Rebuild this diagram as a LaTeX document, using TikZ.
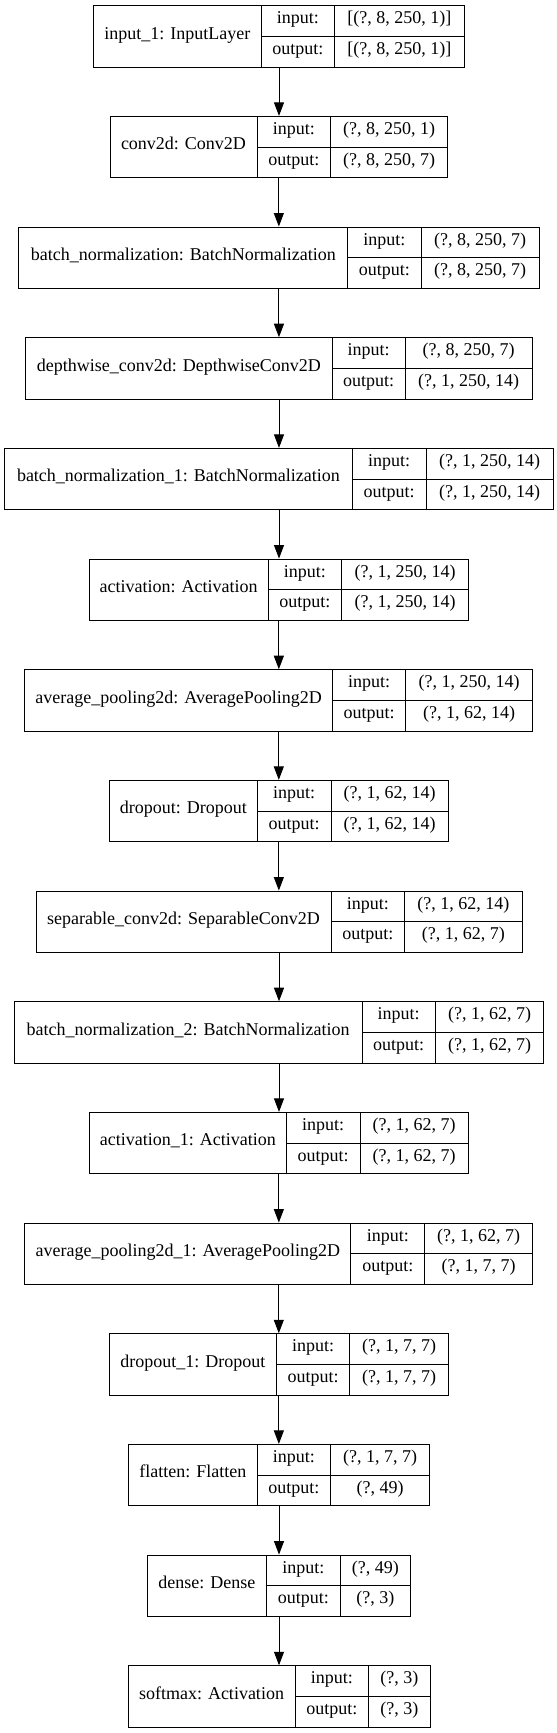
\documentclass[tikz,border=0pt]{standalone}
\usepackage{fontspec}
\setmainfont{Liberation Serif}
\usetikzlibrary{arrows.meta,fit}
\tikzset{
  frame/.style={draw=black, line width=1pt, inner sep=0pt, rectangle},
  cell/.style={draw=black, line width=1pt},
  txt/.style={font=\fontsize{18}{20}\selectfont, inner sep=0pt, text height=0.83em, text depth=0.25em},
  arr/.style={draw=black, line width=1pt, -{Triangle[length=13.5pt,width=10pt]}}
}
\newcommand\klayer[8]{%
  \pgfmathsetmacro\yt{5.7+110.67*#1}%
  \pgfmathsetmacro\yb{\yt+61.3}%
  \pgfmathsetmacro\ym{\yt+30.65}%
  \node[frame, fit={(#2,\yt) (#5,\yb)}] (b#1) {};
  \draw[cell] (#3,\yt) -- (#3,\yb) (#4,\yt) -- (#4,\yb) (#3,\ym) -- (#5,\ym);
  \node[txt] (n#1) at ({(#2+#3)/2},{(\yt+\yb)/2}) {#6};
  \node[txt] (ia#1) at ({(#3+#4)/2},{(\yt+\ym)/2}) {input:};
  \node[txt] (oa#1) at ({(#3+#4)/2},{(\ym+\yb)/2}) {output:};
  \node[txt] (iv#1) at ({(#4+#5)/2},{(\yt+\ym)/2}) {#7};
  \node[txt] (ov#1) at ({(#4+#5)/2},{(\ym+\yb)/2}) {#8};
}
\begin{document}
\begin{tikzpicture}[x=1pt,y=-1pt]
\useasboundingbox[fill=white] (0,0) rectangle (557,1733);
\klayer{0}{93.6}{261}{334.5}{464.4}{input\_1: InputLayer}{[(?, 8, 250, 1)]}{[(?, 8, 250, 1)]}
\klayer{1}{110}{257}{330.6}{447.7}{conv2d: Conv2D}{(?, 8, 250, 1)}{(?, 8, 250, 7)}
\klayer{2}{18.9}{347.7}{421}{539}{batch\_normalization: BatchNormalization}{(?, 8, 250, 7)}{(?, 8, 250, 7)}
\klayer{3}{25.6}{332}{405}{532.4}{depthwise\_conv2d: DepthwiseConv2D}{(?, 8, 250, 7)}{(?, 1, 250, 14)}
\klayer{4}{4.6}{352.3}{426}{553.4}{batch\_normalization\_1: BatchNormalization}{(?, 1, 250, 14)}{(?, 1, 250, 14)}
\klayer{5}{89}{268}{341.6}{468.7}{activation: Activation}{(?, 1, 250, 14)}{(?, 1, 250, 14)}
\klayer{6}{24.9}{332.4}{405.7}{532.7}{average\_pooling2d: AveragePooling2D}{(?, 1, 250, 14)}{(?, 1, 62, 14)}
\klayer{7}{109.3}{257.3}{331}{448.4}{dropout: Dropout}{(?, 1, 62, 14)}{(?, 1, 62, 14)}
\klayer{8}{36}{331}{404.6}{522}{separable\_conv2d: SeparableConv2D}{(?, 1, 62, 14)}{(?, 1, 62, 7)}
\klayer{9}{14.2}{362}{435.2}{543.8}{batch\_normalization\_2: BatchNormalization}{(?, 1, 62, 7)}{(?, 1, 62, 7)}
\klayer{10}{89.7}{286}{360}{468}{activation\_1: Activation}{(?, 1, 62, 7)}{(?, 1, 62, 7)}
\klayer{11}{24.9}{350.9}{424.6}{532.7}{average\_pooling2d\_1: AveragePooling2D}{(?, 1, 62, 7)}{(?, 1, 7, 7)}
\klayer{12}{109.3}{276.5}{349.8}{448.4}{dropout\_1: Dropout}{(?, 1, 7, 7)}{(?, 1, 7, 7)}
\klayer{13}{128.5}{257}{330.6}{429.5}{flatten: Flatten}{(?, 1, 7, 7)}{(?, 49)}
\klayer{14}{147.3}{266.5}{340}{410.7}{dense: Dense}{(?, 49)}{(?, 3)}
\klayer{15}{128}{295}{368.7}{430}{softmax: Activation}{(?, 3)}{(?, 3)}
\foreach \a/\b in {0/1,1/2,2/3,3/4,4/5,5/6,6/7,7/8,8/9,9/10,10/11,11/12,12/13,13/14,14/15}
  \draw[arr] (b\a.south) -- (b\a.south |- b\b.north);
\end{tikzpicture}
\end{document}
